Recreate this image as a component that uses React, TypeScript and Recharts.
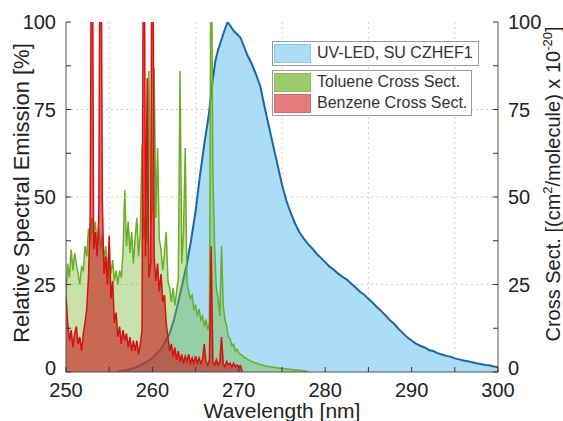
import { Area, CartesianGrid, ComposedChart, Label, XAxis, YAxis } from "recharts";

const FONT = '"Liberation Sans", Arial, Helvetica, sans-serif';

// wavelength grid of the two absorption cross sections [nm]
const gridWl = [
  250.0, 250.2, 250.4, 250.6, 250.8, 251.0, 251.2, 251.4, 251.6, 251.8,
  252.0, 252.2, 252.4, 252.6, 252.8, 253.0, 253.2, 253.4, 253.6, 253.8,
  254.0, 254.2, 254.4, 254.6, 254.8, 255.0, 255.2, 255.4, 255.6, 255.8,
  256.0, 256.2, 256.4, 256.6, 256.8, 257.0, 257.2, 257.4, 257.6, 257.8,
  258.0, 258.2, 258.4, 258.6, 258.8, 259.0, 259.2, 259.4, 259.6, 259.8,
  260.0, 260.2, 260.4, 260.6, 260.8, 261.0, 261.2, 261.4, 261.6, 261.8,
  262.0, 262.2, 262.4, 262.6, 262.8, 263.0, 263.2, 263.4, 263.6, 263.8,
  264.0, 264.2, 264.4, 264.6, 264.8, 265.0, 265.2, 265.4, 265.6, 265.8,
  266.0, 266.2, 266.4, 266.6, 266.8, 267.0, 267.2, 267.4, 267.6, 267.8,
  268.0, 268.2, 268.4, 268.6, 268.8, 269.0, 269.2, 269.4, 269.6, 269.8,
  270.0, 270.2, 270.4, 270.6, 270.8, 271.0, 271.2, 271.4, 271.6, 271.8,
  272.0, 272.2, 272.4, 272.6, 272.8, 273.0, 273.2, 273.4, 273.6, 273.8,
  274.0, 274.2, 274.4, 274.6, 274.8, 275.0, 275.2, 275.4, 275.6, 275.8,
  276.0, 276.2, 276.4, 276.6, 276.8, 277.0, 277.2, 277.4, 277.6, 277.8,
  278.0,
];

// toluene cross section, x 10^-20 cm2/molecule
const toluene = [
  22, 31, 27, 35, 29, 34, 31, 28, 25, 30,
  29, 36, 33, 41, 37, 44, 39, 43, 36, 41,
  35, 39, 32, 36, 30, 33, 28, 32, 26, 29,
  25, 29, 27, 34, 52, 36, 43, 34, 40, 31,
  38, 44, 33, 40, 65, 38, 45, 37, 86, 42,
  47, 87, 44, 64, 38, 35, 29, 34, 40, 26,
  24, 20, 24, 19, 23, 27, 86, 31, 40, 64,
  26, 23, 21, 22, 18, 19, 16, 18, 15, 16,
  13, 15, 12, 14, 140, 57, 36, 24, 21, 16,
  36, 19, 15, 13, 10, 9.5, 7.5, 8, 6, 6.5,
  5.5, 5, 4.8, 4.2, 4, 3.6, 3.4, 3.1, 2.9, 2.7,
  2.6, 2.3, 2.2, 2.1, 1.9, 1.8, 1.7, 1.6, 1.5, 1.4,
  1.4, 1.3, 1.2, 1.1, 1.1, 1.0, 0.9, 0.9, 0.8, 0.8,
  0.7, 0.7, 0.6, 0.6, 0.5, 0.5, 0.4, 0.4, 0.3, 0.2,
  0.1,
];

// benzene cross section, x 10^-20 cm2/molecule (250.0 - 270.4 nm)
const benzene = [
  22, 14, 9, 12, 7, 11, 13, 8, 10, 6,
  11, 14, 18, 27, 44, 170, 35, 40, 33, 45,
  170, 49, 28, 33, 25, 39, 21, 26, 14, 17,
  10, 13, 8, 12, 9, 11, 7, 10, 6, 9,
  6, 9, 5, 8, 12, 170, 33, 84, 27, 31,
  170, 33, 26, 31, 23, 28, 20, 22, 14, 10,
  6, 8, 4.5, 7, 3.5, 6, 3, 5, 2.5, 4.5,
  3, 5, 2.5, 4, 2.5, 4.5, 2.5, 4, 2.5, 3.5,
  8, 3, 2, 3.5, 36, 3, 2, 3.5, 2, 3,
  10, 2.5, 1.5, 3, 2, 2.5, 1.5, 2.5, 1.5, 2,
  1.5, 1.8, 0,
];

// UV-LED emission spectrum [%]
const ledWl = [
  256, 257, 258, 259, 260, 261, 262, 262.5, 263, 263.5,
  264, 264.5, 265, 265.5, 266, 266.5, 267, 267.3, 267.6, 268,
  268.4, 268.7, 269, 269.4, 269.8, 270.2, 270.6, 271, 271.5, 272,
  272.5, 273, 273.5, 274, 274.5, 275, 275.5, 276, 276.5, 277,
  277.5, 278, 278.5, 279, 279.5, 280, 280.5, 281, 281.5, 282,
  282.5, 283, 283.5, 284, 284.5, 285, 285.5, 286, 286.5, 287,
  287.5, 288, 288.5, 289, 289.5, 290, 290.5, 291, 291.5, 292,
  292.5, 293, 293.5, 294, 294.5, 295, 295.5, 296, 296.5, 297,
  297.5, 298, 298.5, 299, 299.5, 300,
];
const led = [
  0.2, 0.5, 1.2, 2.4, 4, 6.5, 11, 15, 20, 25.5,
  31, 38, 46, 56, 65, 73, 84, 89, 92, 95,
  98, 100, 99, 97.5, 96.5, 95.5, 93, 90.5, 88, 85,
  81.5, 75.5, 70, 64.5, 59, 53.5, 49, 45.5, 42.5, 40,
  38.2, 36.6, 35.3, 33.8, 32.6, 31.4, 30.1, 29.2, 28.1, 27.2,
  26.4, 25.3, 24.2, 23, 22.1, 20.9, 19.8, 18.5, 17.4, 16.1,
  14.8, 13.7, 12.3, 11.1, 9.9, 9.0, 8.1, 7.5, 7.0, 6.3,
  6.0, 5.4, 5.0, 4.6, 4.4, 3.9, 3.6, 3.3, 3.1, 2.8,
  2.5, 2.3, 2.0, 1.9, 1.6, 1.4,
];

const xTicks = [250, 255, 260, 265, 270, 275, 280, 285, 290, 295, 300];
const yTicks = [0, 12.5, 25, 37.5, 50, 62.5, 75, 87.5, 100];
const gridX = [255, 265, 275, 285, 295];
const gridY = [25, 50, 75];

const legendTop = [{ name: "UV-LED, SU CZHEF1", color: "#abddf7", border: "#8ccbed" }];
const legendBottom = [
  { name: "Toluene Cross Sect.", color: "#9dca6b", border: "#8bbd57" },
  { name: "Benzene Cross Sect.", color: "#e57b7b", border: "#d96a6a" },
];

// one table for the chart, rows keyed by wavelength
const rows = new Map<string, any>();
const rowAt = (wl: number) => {
  const k = wl.toFixed(2);
  if (!rows.has(k)) rows.set(k, { wl });
  return rows.get(k);
};
gridWl.forEach((wl, i) => {
  const r = rowAt(wl);
  r.toluene = toluene[i];
  if (i < benzene.length) r.benzene = benzene[i];
});
ledWl.forEach((wl, i) => {
  rowAt(wl).led = led[i];
});
const data = [...rows.values()].sort((a, b) => a.wl - b.wl);

const tickText = { fontSize: 20, fill: "#222", fontFamily: FONT };

const BottomTick = ({ x, y, payload }: any) => (
  <g>
    <line x1={x} y1={y} x2={x} y2={y - 5} stroke="#333" />
    {payload.value % 10 === 0 && (
      <text x={x} y={y + 25} textAnchor="middle" {...tickText}>
        {payload.value}
      </text>
    )}
  </g>
);

const TopTick = ({ x, y }: any) => <line x1={x} y1={y} x2={x} y2={y + 5} stroke="#333" />;

// the "0" sits a little higher so it clears the x tick labels
const yLabelDy = (v: number) => (v === 0 ? 3 : 7);

const LeftTick = ({ x, y, payload }: any) => (
  <g>
    <line x1={x} y1={y} x2={x + 5} y2={y} stroke="#333" />
    {payload.value % 25 === 0 && (
      <text x={x - 10} y={y + yLabelDy(payload.value)} textAnchor="end" {...tickText}>
        {payload.value}
      </text>
    )}
  </g>
);

const RightTick = ({ x, y, payload }: any) => (
  <g>
    <line x1={x} y1={y} x2={x - 5} y2={y} stroke="#333" />
    {payload.value % 25 === 0 && (
      <text x={x + 10} y={y + yLabelDy(payload.value)} textAnchor="start" {...tickText}>
        {payload.value}
      </text>
    )}
  </g>
);

const scaleOf = (axis: any, v: number, fallback: number) =>
  axis && typeof axis.scale === "function" ? axis.scale(v) : fallback;

const LegendBox = ({ items, width }: { items: typeof legendBottom; width: number }) => (
  <div
    style={{
      width,
      border: "1px solid #9a9a9a",
      background: "#fff",
      padding: "1px 0",
      marginBottom: 4,
    }}
  >
    {items.map((it) => (
      <div key={it.name} style={{ display: "flex", alignItems: "center", height: 20, marginBottom: 1 }}>
        <div
          style={{
            width: 35,
            height: 17,
            marginLeft: 1,
            marginRight: 6,
            background: it.color,
            border: `1px solid ${it.border}`,
          }}
        />
        <span style={{ fontFamily: FONT, fontSize: 16, color: "#333", whiteSpace: "nowrap" }}>{it.name}</span>
      </div>
    ))}
  </div>
);

export default function App() {
  return (
    <div style={{ position: "relative", width: 563, height: 421, background: "#fff" }}>
      <style>{"body{margin:0}"}</style>
      <ComposedChart width={563} height={421} data={data} margin={{ top: 22, right: 0, bottom: 0, left: 0 }}>
        <CartesianGrid
          xAxisId="bottom"
          yAxisId="left"
          stroke="#cdcdcd"
          strokeDasharray="2 3"
          verticalCoordinatesGenerator={({ xAxis, offset }: any) =>
            gridX.map((v) => scaleOf(xAxis, v, offset.left + ((v - 250) / 50) * offset.width))
          }
          horizontalCoordinatesGenerator={({ yAxis, offset }: any) =>
            gridY.map((v) => scaleOf(yAxis, v, offset.top + (1 - v / 100) * offset.height))
          }
        />
        <Area
          xAxisId="bottom"
          yAxisId="left"
          dataKey="led"
          type="linear"
          stroke="#1b66a3"
          strokeWidth={2}
          fill="#abddf7"
          fillOpacity={1}
          connectNulls
          dot={false}
          activeDot={false}
          isAnimationActive={false}
        />
        <Area
          xAxisId="bottom"
          yAxisId="right"
          dataKey="toluene"
          type="linear"
          stroke="#6aae26"
          strokeWidth={1.5}
          fill="#7aba38"
          fillOpacity={0.42}
          connectNulls
          dot={false}
          activeDot={false}
          isAnimationActive={false}
        />
        <Area
          xAxisId="bottom"
          yAxisId="right"
          dataKey="benzene"
          type="linear"
          stroke="#d51010"
          strokeWidth={1.5}
          fill="#c81e1e"
          fillOpacity={0.62}
          connectNulls
          dot={false}
          activeDot={false}
          isAnimationActive={false}
        />
        <XAxis
          xAxisId="bottom"
          dataKey="wl"
          type="number"
          domain={[250, 300]}
          allowDataOverflow
          ticks={xTicks}
          interval={0}
          height={49}
          tickSize={0}
          tickMargin={0}
          tickLine={false}
          tick={BottomTick}
          axisLine={{ stroke: "#555" }}
        >
          <Label
            content={() => (
              <text x={282} y={418} textAnchor="middle" fontSize={21} fill="#222" fontFamily={FONT}>
                Wavelength [nm]
              </text>
            )}
          />
        </XAxis>
        <XAxis
          xAxisId="top"
          orientation="top"
          dataKey="wl"
          type="number"
          domain={[250, 300]}
          allowDataOverflow
          ticks={xTicks}
          interval={0}
          height={0}
          tickSize={0}
          tickMargin={0}
          tickLine={false}
          tick={TopTick}
          axisLine={{ stroke: "#555" }}
        />
        <YAxis
          yAxisId="left"
          type="number"
          domain={[0, 100]}
          allowDataOverflow
          ticks={yTicks}
          interval={0}
          width={66}
          tickSize={0}
          tickMargin={0}
          tickLine={false}
          tick={LeftTick}
          axisLine={{ stroke: "#555" }}
        >
          <Label
            content={() => (
              <text transform="translate(29,193) rotate(-90)" textAnchor="middle" fontSize={22} fill="#222" fontFamily={FONT}>
                Relative Spectral Emission [%]
              </text>
            )}
          />
        </YAxis>
        <YAxis
          yAxisId="right"
          orientation="right"
          type="number"
          domain={[0, 100]}
          allowDataOverflow
          ticks={yTicks}
          interval={0}
          width={65}
          tickSize={0}
          tickMargin={0}
          tickLine={false}
          tick={RightTick}
          axisLine={{ stroke: "#555" }}
        >
          <Label
            content={() => (
              <text transform="translate(560,184) rotate(-90)" textAnchor="middle" fontSize={20} fill="#222" fontFamily={FONT}>
                Cross Sect.  [(cm
                <tspan fontSize={13} dy={-8}>2</tspan>
                <tspan dy={8}>/molecule) x 10</tspan>
                <tspan fontSize={13} dy={-8}>-20</tspan>
                <tspan dy={8}>]</tspan>
              </text>
            )}
          />
        </YAxis>
      </ComposedChart>
      <div style={{ position: "absolute", left: 272, top: 41 }}>
        <LegendBox items={legendTop} width={205} />
        <LegendBox items={legendBottom} width={198} />
      </div>
    </div>
  );
}
